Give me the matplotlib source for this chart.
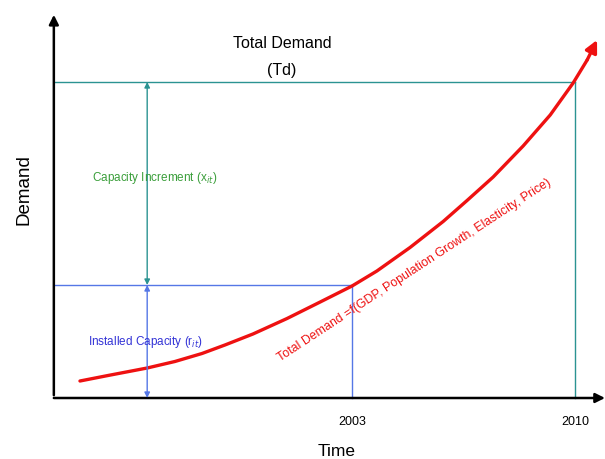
import matplotlib
matplotlib.use('Agg')
import matplotlib.pyplot as plt

plt.rcParams['font.family'] = ['Liberation Sans', 'DejaVu Sans']

# marked years and demand levels (arbitrary demand units)
mark_years = [2003, 2010]
installed_capacity = 113      # demand level reached in 2003
total_demand = 316            # demand level reached in 2010

# total demand curve
curve_years = [1994.46, 1995.34, 1996.57, 1997.44, 1998.29, 1999.01, 1999.89,
               2000.96, 2002.00, 2003.00, 2003.78, 2004.82, 2005.86, 2006.61,
               2007.43, 2008.37, 2009.22, 2009.94, 2010.38, 2010.69]
curve_demand = [17, 22.5, 30, 36.5, 44.5, 53, 64, 79.5, 96, 112, 127, 150.5,
                176.5, 197.5, 221, 252, 283, 315, 338, 358]

axis_year = 1993.64
arrow_year = 1996.57

teal = '#2b9392'
blue = '#5577e6'
red = '#ee1111'

fig = plt.figure(figsize=(6.05, 4.59), dpi=100)
ax = fig.add_axes([0, 0, 1, 1])
ax.set_xlim(1991.95, 2010.94)
ax.set_ylim(-61, 398)
ax.axis('off')

# axes arrows
ax.annotate('', xy=(axis_year, 386), xytext=(axis_year, 0),
            arrowprops=dict(arrowstyle='-|>', color='black', lw=1.8, mutation_scale=14))
ax.annotate('', xy=(2010.94, 0), xytext=(axis_year, 0), annotation_clip=False,
            arrowprops=dict(arrowstyle='-|>', color='black', lw=1.8, mutation_scale=14,
                            shrinkA=0, shrinkB=0))

# guide lines
ax.plot([axis_year, mark_years[1]], [total_demand, total_demand], color=teal, lw=1)
ax.plot([mark_years[1], mark_years[1]], [0, total_demand], color=teal, lw=1)
ax.plot([axis_year, mark_years[0]], [installed_capacity, installed_capacity], color=blue, lw=1)
ax.plot([mark_years[0], mark_years[0]], [0, installed_capacity], color=blue, lw=1)

# increment arrows
ax.annotate('', xy=(arrow_year, total_demand), xytext=(arrow_year, installed_capacity),
            arrowprops=dict(arrowstyle='<|-|>', color=teal, lw=1, mutation_scale=8,
                            shrinkA=0, shrinkB=0))
ax.annotate('', xy=(arrow_year, installed_capacity), xytext=(arrow_year, 0),
            arrowprops=dict(arrowstyle='<|-|>', color=blue, lw=1, mutation_scale=8,
                            shrinkA=0, shrinkB=0))

# demand curve
ax.plot(curve_years[:-1], curve_demand[:-1], color=red, lw=2.4, solid_capstyle='round',
        solid_joinstyle='round')
ax.annotate('', xy=(curve_years[-1], curve_demand[-1]),
            xytext=(curve_years[-2], curve_demand[-2]),
            arrowprops=dict(arrowstyle='-|>', color=red, lw=2.4, mutation_scale=18,
                            shrinkA=0, shrinkB=0))

# texts
ax.text(2000.8, 355, 'Total Demand', ha='center', va='center', fontsize=11.5)
ax.text(2000.8, 327, '(Td)', ha='center', va='center', fontsize=11.5)
ax.text(1992.7, 208, 'Demand', rotation=90, ha='center', va='center', fontsize=13.5)
ax.text(2002.53, -53, 'Time', ha='center', va='center', fontsize=12.5)
for yr in mark_years:
    ax.text(yr, -24, str(yr), ha='center', va='center', fontsize=9)

ax.text(1994.85, 220, 'Capacity Increment (x$_{it}$)', color='#3a9e3a',
        ha='left', va='center', fontsize=8.5)
ax.text(1994.7, 56, 'Installed Capacity (r$_{it}$)', color='#3333d6',
        ha='left', va='center', fontsize=8.5)
ax.text(2004.95, 128, 'Total Demand =f(GDP, Population Growth, Elasticity, Price)',
        color=red, rotation=33.2, rotation_mode='anchor', ha='center', va='center',
        fontsize=8.9)

fig.savefig('out.png', dpi=100)
